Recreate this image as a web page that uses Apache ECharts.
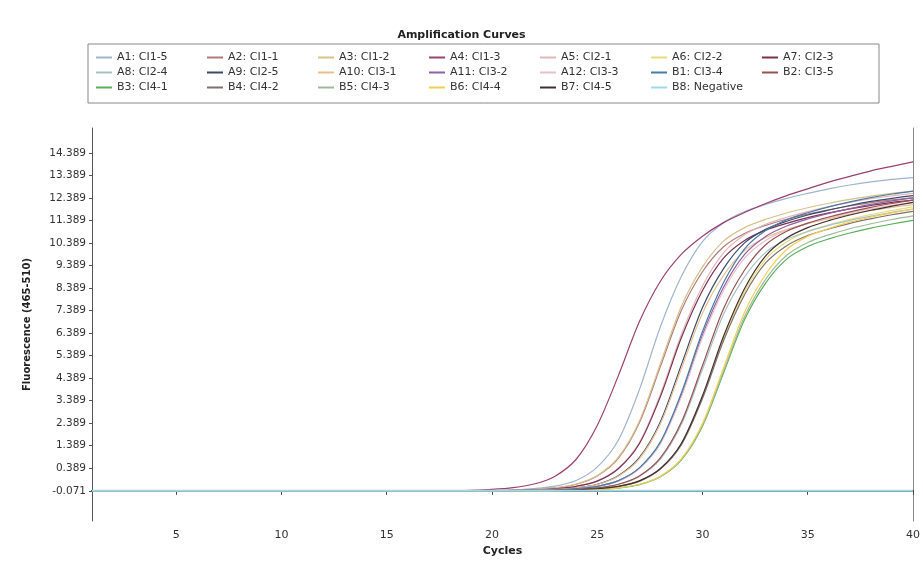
<!DOCTYPE html>
<html><head><meta charset="utf-8">
<script src="https://cdn.jsdelivr.net/npm/echarts@6/dist/echarts.min.js"></script>
<style>html,body{margin:0;padding:0;background:#fff}#c{width:923px;height:569px}</style>
</head><body><div id="c"></div>
<script>
const cycles = [1,2,3,4,5,6,7,8,9,10,11,12,13,14,15,16,17,18,19,20,21,22,23,24,25,26,27,28,29,30,31,32,33,34,35,36,37,38,39,40];
const yTickLabels = ["-0.071","0.389","1.389","2.389","3.389","4.389","5.389","6.389","7.389","8.389","9.389","10.389","11.389","12.389","13.389","14.389"];
const xTickValues = [5,10,15,20,25,30,35,40];
const seriesNames = ["A1: CI1-5","A2: CI1-1","A3: CI1-2","A4: CI1-3","A5: CI2-1","A6: CI2-2","A7: CI2-3",
  "A8: CI2-4","A9: CI2-5","A10: CI3-1","A11: CI3-2","A12: CI3-3","B1: CI3-4","B2: CI3-5",
  "B3: CI4-1","B4: CI4-2","B5: CI4-3","B6: CI4-4","B7: CI4-5","B8: Negative"];
const a1 = [0,0,0,0,0,0,0,0,0,0,0,0,0,0,0,0,0,0,0,0,0.04,0.1,0.21,0.46,1.05,2.24,4.48,7.28,9.52,11.06,11.9,12.39,12.71,12.98,13.2,13.4,13.57,13.71,13.82,13.9];
const a2 = [0,0,0,0,0,0,0,0,0,0,0,0,0,0,0,0,0,0,0,0,0.03,0.07,0.13,0.29,0.66,1.44,3.02,5.51,8.01,9.72,10.83,11.42,11.78,12.05,12.28,12.47,12.64,12.79,12.91,13.0];
const a3 = [0,0,0,0,0,0,0,0,0,0,0,0,0,0,0,0,0,0,0,0,0.03,0.07,0.13,0.3,0.67,1.48,3.09,5.64,8.19,9.94,11.08,11.68,12.05,12.33,12.56,12.76,12.93,13.08,13.2,13.3];
const a4 = [0,0,0,0,0,0,0,0,0,0,0,0,0,0,0,0,0,0,0.02,0.06,0.14,0.3,0.65,1.4,2.9,5.1,7.5,9.3,10.5,11.3,11.9,12.35,12.75,13.1,13.4,13.7,13.95,14.2,14.4,14.6];
const a5 = [0,0,0,0,0,0,0,0,0,0,0,0,0,0,0,0,0,0,0,0,0.02,0.04,0.09,0.2,0.44,1.0,2.14,4.28,6.95,9.09,10.56,11.36,11.83,12.14,12.39,12.61,12.8,12.96,13.09,13.2];
const a6 = [0,0,0,0,0,0,0,0,0,0,0,0,0,0,0,0,0,0,0,0,0,0.01,0.02,0.04,0.09,0.2,0.43,0.98,2.08,4.16,6.76,8.84,10.27,11.05,11.51,11.8,12.05,12.26,12.44,12.6];
const a7 = [0,0,0,0,0,0,0,0,0,0,0,0,0,0,0,0,0,0,0,0,0.02,0.04,0.09,0.2,0.43,0.98,2.09,4.18,6.8,8.89,10.33,11.11,11.57,11.87,12.12,12.33,12.51,12.66,12.8,12.9];
const a8 = [0,0,0,0,0,0,0,0,0,0,0,0,0,0,0,0,0,0,0,0,0.01,0.01,0.03,0.06,0.13,0.28,0.64,1.41,2.95,5.39,7.83,9.49,10.58,11.16,11.51,11.78,12.0,12.19,12.36,12.5];
const a9 = [0,0,0,0,0,0,0,0,0,0,0,0,0,0,0,0,0,0,0,0,0.01,0.03,0.07,0.13,0.29,0.67,1.47,3.07,5.6,8.13,9.86,11.0,11.6,11.96,12.24,12.46,12.66,12.84,12.98,13.1];
const a10 = [0,0,0,0,0,0,0,0,0,0,0,0,0,0,0,0,0,0,0,0,0.01,0.03,0.06,0.13,0.28,0.65,1.42,2.97,5.43,7.88,9.56,10.66,11.24,11.59,11.86,12.08,12.27,12.44,12.58,12.7];
const a11 = [0,0,0,0,0,0,0,0,0,0,0,0,0,0,0,0,0,0,0,0,0.01,0.02,0.04,0.09,0.2,0.44,1.0,2.12,4.25,6.91,9.03,10.49,11.29,11.75,12.06,12.31,12.52,12.71,12.87,13.0];
const a12 = [0,0,0,0,0,0,0,0,0,0,0,0,0,0,0,0,0,0,0,0,0.01,0.02,0.04,0.09,0.2,0.43,0.98,2.09,4.18,6.8,8.89,10.33,11.11,11.57,11.87,12.12,12.33,12.51,12.67,12.8];
const b1 = [0,0,0,0,0,0,0,0,0,0,0,0,0,0,0,0,0,0,0,0,0.01,0.02,0.04,0.1,0.2,0.45,1.02,2.17,4.35,7.07,9.24,10.74,11.55,12.03,12.34,12.6,12.82,13.01,13.17,13.3];
const b2 = [0,0,0,0,0,0,0,0,0,0,0,0,0,0,0,0,0,0,0,0,0.01,0.02,0.03,0.07,0.13,0.29,0.66,1.46,3.05,5.56,8.08,9.8,10.92,11.52,11.88,12.15,12.38,12.58,12.75,12.9];
const b3 = [0,0,0,0,0,0,0,0,0,0,0,0,0,0,0,0,0,0,0,0,0,0,0.01,0.02,0.06,0.12,0.27,0.62,1.37,2.87,5.23,7.6,9.22,10.28,10.84,11.18,11.44,11.66,11.84,12.0];
const b4 = [0,0,0,0,0,0,0,0,0,0,0,0,0,0,0,0,0,0,0,0,0,0.01,0.02,0.04,0.09,0.19,0.42,0.96,2.05,4.1,6.66,8.7,10.11,10.88,11.33,11.62,11.87,12.07,12.25,12.4];
const b5 = [0,0,0,0,0,0,0,0,0,0,0,0,0,0,0,0,0,0,0,0,0,0.01,0.01,0.03,0.06,0.13,0.28,0.63,1.39,2.91,5.32,7.73,9.38,10.45,11.02,11.36,11.63,11.85,12.04,12.2];
const b6 = [0,0,0,0,0,0,0,0,0,0,0,0,0,0,0,0,0,0,0,0,0,0,0.01,0.03,0.06,0.13,0.29,0.65,1.43,2.99,5.45,7.92,9.61,10.71,11.29,11.64,11.92,12.14,12.33,12.5];
const b7 = [0,0,0,0,0,0,0,0,0,0,0,0,0,0,0,0,0,0,0,0,0,0.01,0.02,0.04,0.09,0.2,0.44,0.99,2.11,4.22,6.86,8.98,10.43,11.22,11.68,11.99,12.24,12.45,12.63,12.8];
const b8 = [0,0,0,0,0,0,0,0,0,0,0,0,0,0,0,0,0,0,0,0,0,0,0,0,0,0,0,0,0,0,0,0,0,0,0,0,0,0,0,0];
const seriesValues = [a1,a2,a3,a4,a5,a6,a7,a8,a9,a10,a11,a12,b1,b2,b3,b4,b5,b6,b7,b8];

const colors = ["#9fb4cf","#b07a7a","#d8c08a","#9b4070","#e2b8b8","#e6dc7a","#7a3050",
  "#a8c0c0","#3a4a6a","#e8c090","#9060a0","#e8c0c8","#4a7aa8","#9a5050",
  "#58b058","#807070","#a0b8a0","#f0d050","#403030","#a0d8e8"];

const FONT = '"DejaVu Sans", "Liberation Sans", sans-serif';
const chart = echarts.init(document.getElementById('c'), null, {renderer:'canvas'});
const series = seriesValues.map((vals, i) => ({
  name: seriesNames[i],
  type: 'line',
  symbol: 'none',
  smooth: 0.3,
  data: vals.map((v, j) => [cycles[j], v]),
  lineStyle: { width: i === 19 ? 2 : 1.2, color: colors[i] },
  itemStyle: { color: colors[i] },
  z: i === 19 ? 3 : 2,
  animation: false
}));
series.push({
  type: 'line', yAxisIndex: 1, data: [], silent: true
});
chart.setOption({
  animation: false,
  backgroundColor: '#fff',
  title: {
    text: 'Amplification Curves', left: 'center', top: 25,
    textStyle: { fontSize: 11, fontWeight: 'bold', color: '#222', fontFamily: FONT }
  },
  legend: {
    data: seriesNames,
    left: 88, top: 44, width: 790,
    padding: [7, 8, 9, 8],
    borderColor: '#888', borderWidth: 1,
    icon: 'rect',
    itemWidth: 16, itemHeight: 2, itemGap: 2,
    formatter: name => '{t|' + name + '}',
    textStyle: {
      fontSize: 11, color: '#333', fontFamily: FONT, lineHeight: 13,
      rich: { t: { width: 88, fontSize: 11, lineHeight: 13, height: 13, color: '#333', fontFamily: FONT } }
    }
  },
  grid: { left: 92, right: 10, top: 128, bottom: 48 },
  xAxis: {
    type: 'value', min: 1, max: 40,
    name: 'Cycles', nameLocation: 'middle', nameGap: 25,
    nameTextStyle: { fontSize: 11, fontWeight: 'bold', color: '#222', fontFamily: FONT },
    axisLine: { lineStyle: { color: '#222', width: 2 } },
    axisTick: { customValues: xTickValues, length: 4, lineStyle: { color: '#444' } },
    axisLabel: { customValues: xTickValues, fontSize: 11, color: '#333', fontFamily: FONT, margin: 9 },
    splitLine: { show: false }
  },
  yAxis: [{
    type: 'value', min: -1.34, max: 16.1,
    name: 'Fluorescence (465-510)', nameLocation: 'middle', nameGap: 60,
    nameTextStyle: { fontSize: 10, fontWeight: 'bold', color: '#222', fontFamily: FONT },
    axisLine: { show: true, lineStyle: { color: '#555', width: 1 } },
    axisTick: { show: true, customValues: [0,1,2,3,4,5,6,7,8,9,10,11,12,13,14,15], length: 3, lineStyle: { color: '#555' } },
    axisLabel: {
      customValues: [0,1,2,3,4,5,6,7,8,9,10,11,12,13,14,15],
      formatter: v => yTickLabels[Math.round(v)],
      fontSize: 10.5, color: '#333', fontFamily: FONT, margin: 6
    },
    splitLine: { show: false }
  }, {
    type: 'value', min: -1.34, max: 16.1, position: 'right',
    axisLine: { show: true, lineStyle: { color: '#888', width: 1 } },
    axisTick: { show: false }, axisLabel: { show: false }, splitLine: { show: false }
  }],
  series: series
});
</script>
</body></html>
